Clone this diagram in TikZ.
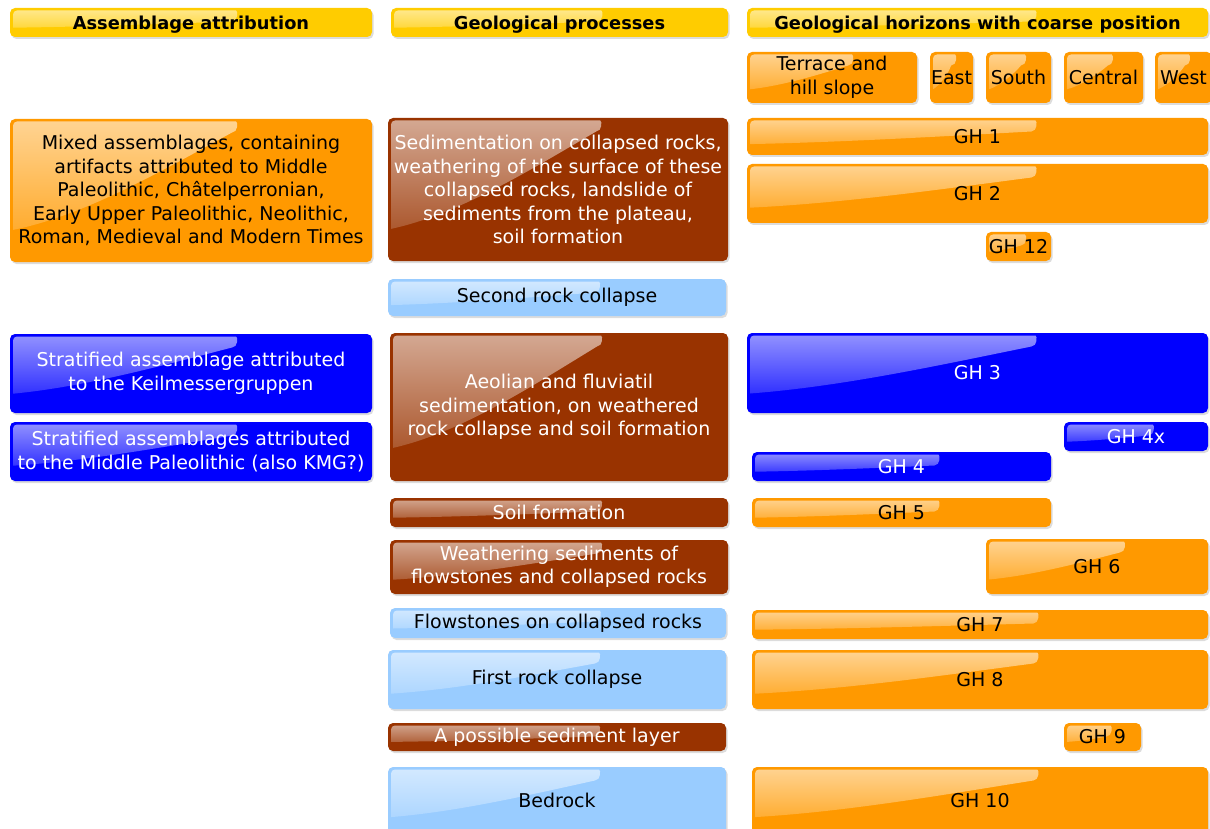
\documentclass[tikz,border=0pt]{standalone}
\usepackage{fontspec}
\setmainfont{DejaVu Sans}
\usetikzlibrary{shadows,calc}
\definecolor{cyel}{HTML}{FFCC00}
\definecolor{corg}{HTML}{FF9900}
\definecolor{cblu}{HTML}{0000FF}
\definecolor{cbrn}{HTML}{993300}
\definecolor{clbl}{HTML}{99CCFF}
\tikzset{
  gb/.style={rounded corners=5pt, inner sep=0pt, align=center,
    font=\fontsize{19}{23.5}\selectfont,
    drop shadow={shadow xshift=1.5pt, shadow yshift=-2pt, opacity=0.28}}
}
\newcommand{\hdfont}{\fontsize{17.8}{22}\selectfont\bfseries\rule{0pt}{17.5pt}}
\newcommand{\gbox}[8]{%
  \pgfmathsetmacro\gbW{#4-#2}%
  \pgfmathsetmacro\gbH{#5-#3}%
  \pgfmathsetmacro\gbX{(#2+#4)/2}%
  \pgfmathsetmacro\gbY{(#3+#5)/2}%
  \pgfmathsetmacro\gbR{0.63*\gbW}%
  \pgfmathsetmacro\gbRa{\gbR-6}%
  \pgfmathsetmacro\gbL{max(0.8*\gbH-6,0.45*\gbH)}%
  \pgfmathsetmacro\gbS{min(11,0.4*\gbH)}%
  \pgfmathsetmacro\gbD{\gbL-\gbS}%
  \pgfmathsetmacro\gbLy{-2.5-\gbL}%
  \pgfmathsetmacro\gbSy{-2.5-\gbS}%
  \pgfmathsetmacro\gbCa{0.66*\gbR}%
  \pgfmathsetmacro\gbCay{-2.5-\gbS-0.4*\gbD}%
  \pgfmathsetmacro\gbCb{0.33*\gbR}%
  \pgfmathsetmacro\gbCby{-2.5-\gbS-0.85*\gbD}%
  \node[gb, fill=#6, text=#7, minimum width=\gbW pt, minimum height=\gbH pt,
    path picture={
      \shade[top color=#6!42!white, bottom color=#6!93!white]
        ($(path picture bounding box.north west)+(3pt,\gbLy pt)$)
        [rounded corners=4pt] -- ($(path picture bounding box.north west)+(3pt,-2.5pt)$)
        -- ($(path picture bounding box.north west)+(\gbRa pt,-2.5pt)$) [sharp corners]
        .. controls ($(path picture bounding box.north west)+(\gbR pt,-2.5pt)$)
           and ($(path picture bounding box.north west)+(\gbR pt,\gbSy pt)$)
        .. ($(path picture bounding box.north west)+(\gbRa pt,\gbSy pt)$)
        .. controls ($(path picture bounding box.north west)+(\gbCa pt,\gbCay pt)$)
           and ($(path picture bounding box.north west)+(\gbCb pt,\gbCby pt)$)
        .. ($(path picture bounding box.north west)+(3pt,\gbLy pt)$) -- cycle;
    }] (#1) at (\gbX,\gbY) {#8};%
}
\begin{document}
\begin{tikzpicture}[x=1pt, y=-1pt]
\useasboundingbox (0,0) rectangle (1210,829);
% headers
\gbox{h1}{10}{8}{372}{37}{cyel}{black}{\hdfont Assemblage attribution}
\gbox{h2}{391}{8}{728}{37}{cyel}{black}{\hdfont Geological processes}
\gbox{h3}{747}{8}{1208}{37}{cyel}{black}{\hdfont Geological horizons with coarse position}
% locations
\gbox{terr}{747}{52}{917}{103}{corg}{black}{Terrace and\\hill slope}
\gbox{east}{930}{52}{973}{103}{corg}{black}{East}
\gbox{south}{986}{52}{1051}{103}{corg}{black}{South}
\gbox{central}{1064}{52}{1143}{103}{corg}{black}{Central}
\gbox{west}{1155}{52}{1212}{103}{corg}{black}{West}
% left column
\gbox{mixed}{10}{119}{372}{262}{corg}{black}{Mixed assemblages, containing\\artifacts attributed to Middle\\Paleolithic, Châtelperronian,\\Early Upper Paleolithic, Neolithic,\\Roman, Medieval and Modern Times}
\gbox{kmg}{10}{334}{372}{413}{cblu}{white}{Stratified assemblage attributed\\to the Keilmessergruppen}
\gbox{mp}{10}{422}{372}{481}{cblu}{white}{Stratified assemblages attributed\\to the Middle Paleolithic (also KMG?)}
% middle column
\gbox{sed}{388}{118}{728}{261}{cbrn}{white}{Sedimentation on collapsed rocks,\\weathering of the surface of these\\collapsed rocks, landslide of\\sediments from the plateau,\\soil formation}
\gbox{src}{388}{279}{726}{316}{clbl}{black}{Second rock collapse}
\gbox{aeol}{390}{333}{728}{481}{cbrn}{white}{Aeolian and fluviatil\\sedimentation, on weathered\\rock collapse and soil formation}
\gbox{soil}{390}{498}{728}{527}{cbrn}{white}{Soil formation}
\gbox{weath}{390}{540}{728}{594}{cbrn}{white}{Weathering sediments of\\flowstones and collapsed rocks}
\gbox{flow}{390}{608}{726}{638}{clbl}{black}{Flowstones on collapsed rocks}
\gbox{frc}{388}{650}{726}{709}{clbl}{black}{First rock collapse}
\gbox{psl}{388}{723}{726}{751}{cbrn}{white}{A possible sediment layer}
\gbox{bed}{388}{767}{726}{834}{clbl}{black}{Bedrock}
% right column
\gbox{gh1}{747}{118}{1208}{155}{corg}{black}{GH 1}
\gbox{gh2}{747}{164}{1208}{223}{corg}{black}{GH 2}
\gbox{gh12}{986}{232}{1051}{261}{corg}{black}{GH 12}
\gbox{gh3}{747}{333}{1208}{413}{cblu}{white}{GH 3}
\gbox{gh4x}{1064}{422}{1208}{451}{cblu}{white}{GH 4x}
\gbox{gh4}{752}{452}{1051}{481}{cblu}{white}{GH 4}
\gbox{gh5}{752}{498}{1051}{527}{corg}{black}{GH 5}
\gbox{gh6}{986}{539}{1208}{594}{corg}{black}{GH 6}
\gbox{gh7}{752}{610}{1208}{639}{corg}{black}{GH 7}
\gbox{gh8}{752}{650}{1208}{709}{corg}{black}{GH 8}
\gbox{gh9}{1064}{723}{1141}{751}{corg}{black}{GH 9}
\gbox{gh10}{752}{767}{1208}{834}{corg}{black}{GH 10}
\end{tikzpicture}
\end{document}
